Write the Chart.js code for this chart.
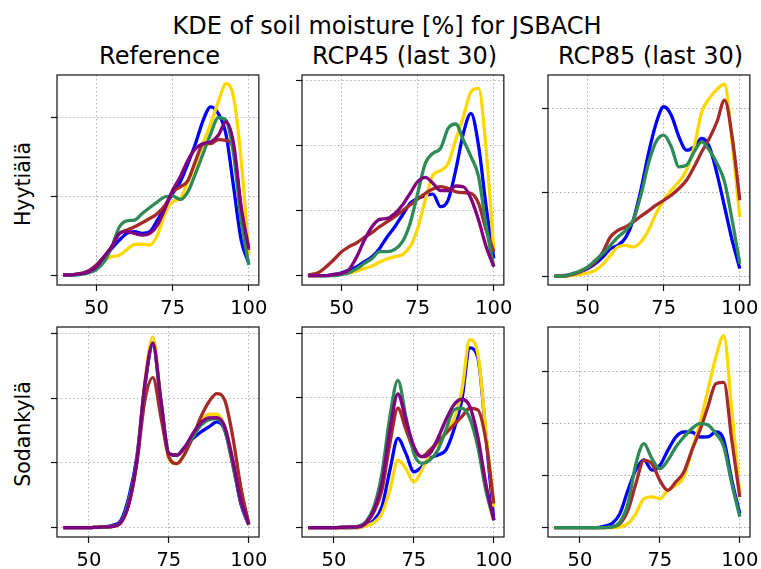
<!DOCTYPE html>
<html>
<head>
<meta charset="utf-8">
<title>KDE of soil moisture for JSBACH</title>
<script src="https://cdn.jsdelivr.net/npm/chart.js@4.4.1/dist/chart.umd.min.js"></script>
<style>
  html, body { margin: 0; padding: 0; background: #fff; overflow: hidden; }
  body { width: 761px; height: 569px; position: relative; font-family: 'DejaVu Sans', sans-serif; color: #000; }
  .label { position: absolute; white-space: nowrap; line-height: 1; }
  .title { font-size: 24px; transform: translateX(-50%); }
  .rowlabel { font-size: 20.5px; transform: translate(-50%, -50%) rotate(-90deg); }
  .panel { position: absolute; }
  .panel canvas { display: block; }
</style>
</head>
<body>
<div class="label title" style="left:387px; top:14px">KDE of soil moisture [%] for JSBACH</div>
<div class="label title" style="left:159.5px; top:44px">Reference</div>
<div class="label title" style="left:404.5px; top:44px">RCP45 (last 30)</div>
<div class="label title" style="left:650.5px; top:44px">RCP85 (last 30)</div>
<div class="label rowlabel" style="left:23px; top:184px">Hyytiälä</div>
<div class="label rowlabel" style="left:23px; top:434px">Sodankylä</div>

<script>
// soil moisture grid (%) the densities are sampled on
const moistureHyy = [39, 42.5, 45, 47.5, 50, 52.5, 55, 57.5, 60, 62.5, 65, 67.5, 70, 72.5, 75, 77.5, 80, 82.5, 85, 87.5, 90, 92.5, 95, 97.5, 100];
const moistureSod = [42, 45, 47.5, 50, 52.5, 55, 57.5, 60, 62.5, 65, 67.5, 70, 72.5, 75, 77.5, 80, 82.5, 85, 87.5, 90, 92.5, 95, 97.5, 100];
const xTickValues = [50, 75, 100];

// Hyytiälä, reference period (density, relative units)
const hyyRefBlue   = [0, 0.004, 0.021, 0.055, 0.127, 0.233, 0.338, 0.444, 0.529, 0.55, 0.529, 0.55, 0.698, 0.867, 1.036, 1.184, 1.416, 1.67, 1.966, 2.135, 2.05, 1.79, 1.12, 0.444, 0.148];
const hyyRefGold   = [0, 0.004, 0.02, 0.046, 0.106, 0.19, 0.233, 0.25, 0.326, 0.389, 0.393, 0.381, 0.507, 0.782, 0.93, 0.972, 1.184, 1.416, 1.67, 1.924, 2.2, 2.43, 2.26, 1.46, 0.254];
const hyyRefBrown  = [0, 0.004, 0.021, 0.055, 0.127, 0.233, 0.359, 0.528, 0.571, 0.613, 0.664, 0.719, 0.782, 0.888, 1.057, 1.12, 1.2, 1.45, 1.662, 1.67, 1.72, 1.71, 1.6, 0.82, 0.317];
const hyyRefGreen  = [0, 0, 0.008, 0.03, 0.072, 0.169, 0.359, 0.613, 0.689, 0.698, 0.782, 0.858, 0.93, 0.994, 1.002, 0.96, 1.057, 1.29, 1.543, 1.797, 2.0, 1.966, 1.54, 0.7, 0.127];
const hyyRefPurple = [0, 0.004, 0.017, 0.042, 0.106, 0.233, 0.359, 0.528, 0.55, 0.528, 0.507, 0.528, 0.634, 0.846, 1.078, 1.247, 1.459, 1.607, 1.67, 1.691, 1.776, 1.945, 1.67, 0.867, 0.338];

// Hyytiälä, RCP4.5 last 30 years
const hyy45Blue   = [0, 0, 0, 0.02, 0.046, 0.087, 0.139, 0.216, 0.293, 0.421, 0.601, 0.755, 0.935, 1.115, 1.192, 1.233, 1.258, 1.063, 1.166, 1.628, 2.193, 2.501, 2.0, 1.06, 0.267];
const hyy45Gold   = [0, 0, 0, 0.015, 0.026, 0.046, 0.072, 0.113, 0.149, 0.21, 0.262, 0.293, 0.324, 0.447, 0.729, 1.166, 1.551, 1.618, 1.73, 2.09, 2.45, 2.835, 2.886, 1.936, 0.395];
const hyy45Brown  = [0.01, 0.05, 0.14, 0.25, 0.37, 0.447, 0.508, 0.591, 0.663, 0.755, 0.832, 0.909, 1.0, 1.089, 1.181, 1.269, 1.335, 1.371, 1.346, 1.294, 1.279, 1.269, 1.115, 0.704, 0.37];
const hyy45Green  = [0, 0, 0, 0, 0.02, 0.046, 0.108, 0.19, 0.267, 0.37, 0.37, 0.406, 0.524, 0.806, 1.269, 1.731, 1.885, 1.962, 2.27, 2.337, 2.09, 1.834, 1.525, 0.755, 0.139];
const hyy45Purple = [0, 0, 0, 0.02, 0.036, 0.098, 0.293, 0.55, 0.755, 0.868, 0.883, 0.96, 1.089, 1.269, 1.448, 1.515, 1.423, 1.31, 1.31, 1.382, 1.371, 1.19, 0.858, 0.447, 0.139];

// Hyytiälä, RCP8.5 last 30 years
const hyy85Blue  = [0, 0.008, 0.02, 0.048, 0.088, 0.147, 0.227, 0.327, 0.367, 0.458, 0.665, 1.024, 1.462, 1.821, 2.02, 1.92, 1.661, 1.502, 1.542, 1.641, 1.542, 1.223, 0.825, 0.426, 0.088];
const hyy85Gold  = [0, 0, 0.008, 0.02, 0.036, 0.068, 0.139, 0.247, 0.347, 0.367, 0.347, 0.406, 0.546, 0.745, 0.904, 1.024, 1.124, 1.263, 1.54, 1.96, 2.12, 2.227, 2.29, 1.58, 0.705];
const hyy85Brown = [0, 0, 0.02, 0.048, 0.1, 0.167, 0.287, 0.466, 0.546, 0.586, 0.645, 0.713, 0.777, 0.845, 0.904, 0.964, 1.044, 1.143, 1.303, 1.482, 1.641, 1.841, 2.1, 1.66, 0.904];
const hyy85Green = [0, 0, 0.028, 0.06, 0.108, 0.187, 0.267, 0.367, 0.466, 0.546, 0.665, 0.964, 1.343, 1.602, 1.681, 1.542, 1.303, 1.323, 1.482, 1.602, 1.502, 1.343, 1.124, 0.665, 0.147];

// Sodankylä, reference period
const sodRefBlue   = [0, 0, 0, 0, 0.005, 0.01, 0.036, 0.113, 0.474, 1.1, 2.2, 2.84, 1.95, 1.144, 1.119, 1.247, 1.376, 1.479, 1.557, 1.634, 1.505, 0.99, 0.371, 0.036];
const sodRefGold   = [0, 0, 0, 0, 0.005, 0.01, 0.02, 0.077, 0.371, 1.041, 2.25, 2.948, 1.969, 1.067, 0.99, 1.144, 1.428, 1.634, 1.753, 1.753, 1.557, 1.041, 0.423, 0.036];
const sodRefBrown  = [0, 0, 0, 0, 0.005, 0.01, 0.02, 0.077, 0.371, 1.0, 1.969, 2.32, 1.711, 1.093, 0.99, 1.144, 1.402, 1.711, 1.943, 2.072, 1.969, 1.402, 0.629, 0.062];
const sodRefGreen  = [0, 0, 0, 0, 0.005, 0.01, 0.025, 0.09, 0.42, 1.05, 2.2, 2.82, 1.969, 1.15, 1.119, 1.247, 1.402, 1.582, 1.67, 1.686, 1.505, 0.964, 0.4, 0.045];
const sodRefPurple = [0, 0, 0, 0, 0.005, 0.01, 0.02, 0.077, 0.371, 1.041, 2.227, 2.856, 1.969, 1.144, 1.119, 1.247, 1.454, 1.619, 1.696, 1.701, 1.557, 1.041, 0.423, 0.05];

// Sodankylä, RCP4.5 last 30 years
const sod45Blue   = [0, 0, 0, 0, 0, 0, 0, 0.036, 0.113, 0.32, 0.887, 1.376, 1.144, 0.861, 0.938, 1.067, 1.119, 1.196, 1.505, 1.969, 2.77, 2.62, 1.443, 0.113];
const sod45Gold   = [0, 0, 0, 0, 0, 0, 0, 0.026, 0.077, 0.216, 0.577, 1.041, 0.912, 0.704, 0.887, 1.144, 1.299, 1.454, 1.665, 2.113, 2.897, 2.68, 1.505, 0.32];
const sod45Brown  = [0, 0, 0, 0, 0, 0, 0.01, 0.062, 0.242, 0.577, 1.299, 1.84, 1.515, 1.196, 1.093, 1.196, 1.325, 1.454, 1.582, 1.711, 1.84, 1.814, 1.35, 0.371];
const sod45Green  = [0, 0, 0, 0, 0.005, 0.01, 0.021, 0.088, 0.32, 0.835, 1.711, 2.27, 1.711, 1.144, 0.99, 1.041, 1.196, 1.505, 1.814, 1.84, 1.686, 1.247, 0.577, 0.113];
const sod45Purple = [0, 0, 0, 0, 0.005, 0.01, 0.01, 0.072, 0.268, 0.68, 1.5, 2.06, 1.66, 1.253, 1.093, 1.144, 1.376, 1.66, 1.891, 1.979, 1.866, 1.4, 0.68, 0.113];

// Sodankylä, RCP8.5 last 30 years
const sod85Blue  = [0, 0, 0, 0, 0, 0, 0.026, 0.077, 0.27, 0.719, 1.116, 1.303, 1.11, 1.2, 1.49, 1.747, 1.843, 1.843, 1.747, 1.75, 1.843, 1.683, 0.912, 0.27];
const sod85Gold  = [0, 0, 0, 0, 0, 0, 0, 0, 0.013, 0.077, 0.27, 0.56, 0.591, 0.56, 0.719, 0.816, 0.976, 1.489, 2.004, 2.646, 3.28, 3.7, 2.26, 0.655];
const sod85Brown = [0, 0, 0, 0, 0, 0, 0, 0.013, 0.077, 0.334, 0.848, 1.297, 1.233, 0.91, 0.719, 0.88, 1.072, 1.489, 1.873, 2.325, 2.775, 2.8, 1.686, 0.591];
const sod85Green = [0, 0, 0, 0, 0, 0, 0, 0.013, 0.109, 0.462, 1.233, 1.618, 1.33, 1.137, 1.297, 1.554, 1.747, 1.908, 2.004, 1.98, 1.814, 1.56, 0.85, 0.206];

// line colours, drawn in this order (purple ends up on top)
const seriesColors = ['blue', 'gold', 'brown', 'seagreen', 'purple'];

const PANEL_W = 205, PANEL_H = 210;
const AXIS_W = 24, AXIS_H = 34, PAD_T = 3, PAD_R = 12;

const panels = [
  { left: 57,  top: 75,  x: moistureHyy, xr: [37, 103.3], yr: [-0.127, 2.541],
    series: [hyyRefBlue, hyyRefGold, hyyRefBrown, hyyRefGreen, hyyRefPurple] },
  { left: 302, top: 75,  x: moistureHyy, xr: [37, 103.3], yr: [-0.143, 3.092],
    series: [hyy45Blue, hyy45Gold, hyy45Brown, hyy45Green, hyy45Purple] },
  { left: 548, top: 75,  x: moistureHyy, xr: [37, 103.3], yr: [-0.107, 2.399],
    series: [hyy85Blue, hyy85Gold, hyy85Brown, hyy85Green, null] },
  { left: 57,  top: 327, x: moistureSod, xr: [40, 103.2], yr: [-0.145, 3.102],
    series: [sodRefBlue, sodRefGold, sodRefBrown, sodRefGreen, sodRefPurple] },
  { left: 302, top: 327, x: moistureSod, xr: [40, 103.2], yr: [-0.145, 3.093],
    series: [sod45Blue, sod45Gold, sod45Brown, sod45Green, sod45Purple] },
  { left: 548, top: 327, x: moistureSod, xr: [40, 103.2], yr: [-0.181, 3.867],
    series: [sod85Blue, sod85Gold, sod85Brown, sod85Green, null] }
];

// black box around each axes, like matplotlib spines
const frame = {
  id: 'frame',
  afterDraw(chart) {
    const { ctx, chartArea: a } = chart;
    ctx.save();
    ctx.strokeStyle = '#111';
    ctx.lineWidth = 1.2;
    ctx.strokeRect(a.left, a.top, a.right - a.left, a.bottom - a.top);
    ctx.restore();
  }
};

const gridStyle = { color: '#b0b0b0', lineWidth: 1, tickColor: '#111', tickLength: 6, tickWidth: 1.2 };
const borderStyle = { display: false, dash: [1.5, 2.5] };

panels.forEach(p => {
  const box = document.createElement('div');
  box.className = 'panel';
  box.style.left = (p.left - AXIS_W) + 'px';
  box.style.top = (p.top - PAD_T) + 'px';
  const canvas = document.createElement('canvas');
  canvas.width = PANEL_W + AXIS_W + PAD_R;
  canvas.height = PANEL_H + PAD_T + AXIS_H;
  box.appendChild(canvas);
  document.body.appendChild(box);

  const datasets = [];
  p.series.forEach((values, k) => {
    if (!values) return;
    datasets.push({
      data: values.map((v, j) => ({ x: p.x[j], y: v })),
      borderColor: seriesColors[k],
      borderWidth: 3.3,
      borderJoinStyle: 'round',
      pointRadius: 0,
      fill: false,
      cubicInterpolationMode: 'monotone',
      order: seriesColors.length - k
    });
  });

  new Chart(canvas, {
    type: 'line',
    data: { datasets },
    options: {
      responsive: false,
      animation: false,
      layout: { padding: { top: PAD_T, right: PAD_R, left: 0, bottom: 0 } },
      plugins: { legend: { display: false }, tooltip: { enabled: false } },
      scales: {
        x: {
          type: 'linear',
          min: p.xr[0],
          max: p.xr[1],
          afterBuildTicks: s => { s.ticks = xTickValues.map(v => ({ value: v })); },
          afterFit: s => { s.height = AXIS_H; },
          grid: gridStyle,
          border: borderStyle,
          ticks: { color: '#000', padding: 6, maxRotation: 0, autoSkip: false,
                   font: { family: 'DejaVu Sans', size: 19.5 } }
        },
        y: {
          min: p.yr[0],
          max: p.yr[1],
          afterFit: s => { s.width = AXIS_W; },
          grid: gridStyle,
          border: borderStyle,
          ticks: { display: false, stepSize: 1, includeBounds: false }
        }
      }
    },
    plugins: [frame]
  });
});
</script>
</body>
</html>
